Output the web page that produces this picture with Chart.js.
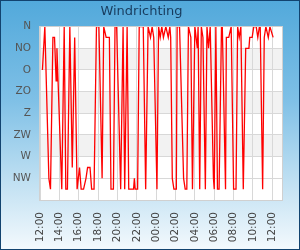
<!DOCTYPE html>
<html>
<head>
<meta charset="utf-8">
<script src="https://cdn.jsdelivr.net/npm/chart.js@4.4.1/dist/chart.umd.min.js"></script>
<style>
    html, body { margin: 0; padding: 0; }
    #wrap {
        width: 300px; height: 250px; box-sizing: border-box;
        border: 1px solid #12436f;
        background: linear-gradient(to bottom, #52a9db 0%, #7fc0e6 40%, #c4e2f3 75%, #f3f9fd 100%);
        position: relative;
    }
    #wrap canvas { display: block; }
</style>
</head>
<body>
<div id="wrap"><canvas id="myChart" width="298" height="248"></canvas></div>
<script>
// windrichting in graden (0 = N), tijd per meting
var times = ['12:15', '12:30', '12:55', '13:05', '13:20', '13:30', '13:40', '13:45', '14:15', '14:30',
    '14:40', '14:50', '15:05', '15:20', '15:35', '15:50', '16:05', '16:15', '16:30', '16:45',
    '16:55', '17:10', '17:20', '17:35', '17:50', '18:05', '18:25', '18:35', '18:50', '19:10',
    '19:20', '19:35', '19:45', '19:55', '20:20', '20:35', '20:45', '21:00', '21:10', '21:40',
    '21:45', '21:50', '22:05', '22:15', '22:40', '22:55', '23:10', '23:25', '23:35', '23:45',
    '00:05', '00:15', '00:25', '00:35', '00:45', '01:00', '01:15', '01:25', '01:30', '01:40',
    '01:50', '02:05', '02:10', '02:25', '02:50', '03:00', '03:10', '03:20', '03:35', '03:45',
    '04:00', '04:15', '04:20', '04:30', '04:40', '04:50', '05:05', '05:15', '05:25', '05:35',
    '05:55', '06:00', '06:10', '06:20', '06:30', '06:45', '06:50', '07:10', '07:15', '07:30',
    '07:45', '08:00', '08:15', '08:25', '08:35', '08:45', '09:00', '09:15', '09:35', '09:40',
    '09:55', '10:05', '10:20', '10:30', '10:40', '10:45', '11:00', '11:10', '11:20', '11:35',
    '11:45', '12:05'];
var dirs = [90, 0, 315, 337.5, 22.5, 22.5, 112.5, 45, 337.5, 0,
    337.5, 337.5, 0, 292.5, 22.5, 337.5, 292.5, 337.5, 337.5, 315,
    292.5, 292.5, 337.5, 337.5, 0, 0, 315, 0, 22.5, 22.5,
    337.5, 337.5, 0, 0, 337.5, 0, 337.5, 0, 337.5, 337.5,
    315, 337.5, 337.5, 0, 0, 337.5, 0, 22.5, 0, 22.5,
    337.5, 0, 22.5, 0, 22.5, 0, 22.5, 0, 22.5, 315,
    337.5, 337.5, 0, 0, 315, 337.5, 337.5, 0, 22.5, 337.5,
    0, 45, 0, 337.5, 0, 22.5, 337.5, 0, 45, 0,
    315, 337.5, 0, 337.5, 337.5, 0, 0, 337.5, 22.5, 22.5,
    0, 337.5, 337.5, 0, 22.5, 0, 337.5, 45, 45, 22.5,
    22.5, 0, 0, 22.5, 0, 0, 337.5, 22.5, 0, 22.5,
    0, 22.5];
var richtingen = ['N', 'NO', 'O', 'ZO', 'Z', 'ZW', 'W', 'NW', ''];
var startUur = 12;

// uren sinds 12:00, met overgang naar de volgende dag
var punten = [], dag = 0, vorige = -1;
times.forEach(function (t, i) {
    var p = t.split(':');
    var uur = parseInt(p[0]) + parseInt(p[1]) / 60;
    if (uur < vorige) dag += 24;
    vorige = uur;
    punten.push({x: uur + dag - startUur, y: dirs[i]});
});

const achtergrond = {
    id: 'achtergrond',
    beforeDraw(chart) {
        var c = chart.ctx, a = chart.chartArea, y = chart.scales.y;
        c.save();
        c.fillStyle = '#ffffff';
        c.fillRect(a.left, a.top, a.right - a.left, a.bottom - a.top);
        c.fillStyle = '#f2f2f2';
        for (var v = 45; v < 315; v += 90) {
            var y1 = y.getPixelForValue(v), y2 = y.getPixelForValue(v + 45);
            c.fillRect(a.left, y1, a.right - a.left, y2 - y1);
        }
        c.restore();
    },
    afterDraw(chart) {
        var c = chart.ctx, a = chart.chartArea;
        c.save();
        c.strokeStyle = '#d0d0d0';
        c.lineWidth = 1;
        c.strokeRect(Math.round(a.left) - 0.5, Math.round(a.top) - 0.5, Math.round(a.right - a.left) + 1, Math.round(a.bottom - a.top) + 1);
        c.restore();
    }
};

var ctx = document.getElementById('myChart').getContext('2d');
var myChart = new Chart(ctx, {
    type: 'line',
    data: {
        datasets: [{
            data: punten,
            borderColor: '#ff0000',
            borderWidth: 1.3,
            pointRadius: 0,
            tension: 0,
            fill: false
        }]
    },
    plugins: [achtergrond],
    options: {
        responsive: false,
        animation: false,
        layout: {padding: {left: 0, right: 17, top: 0, bottom: 0}},
        plugins: {
            legend: {display: false},
            tooltip: {enabled: false},
            title: {
                display: true,
                text: 'Windrichting',
                color: '#183c5e',
                font: {family: 'DejaVu Sans', size: 13, weight: 'normal'},
                padding: {top: 3, bottom: 7}
            }
        },
        scales: {
            x: {
                type: 'linear',
                min: 0,
                max: 25,
                grid: {color: '#d8d8d8', drawTicks: false},
                border: {display: false},
                afterFit: function (s) { s.height = 49; },
                ticks: {
                    stepSize: 2,
                    autoSkip: false,
                    includeBounds: false,
                    maxRotation: 90,
                    minRotation: 90,
                    padding: 12,
                    color: '#444444',
                    font: {family: 'DejaVu Sans', size: 10.5},
                    callback: function (v) {
                        if (v % 2 !== 0) return '';
                        var h = (startUur + v) % 24;
                        return (h < 10 ? '0' : '') + h + ':00';
                    }
                }
            },
            y: {
                type: 'linear',
                reverse: true,
                min: 0,
                max: 360,
                grid: {color: '#d8d8d8', drawTicks: false},
                border: {display: false},
                afterFit: function (s) { s.width = 39; },
                ticks: {
                    stepSize: 45,
                    padding: 9,
                    color: '#555555',
                    font: {family: 'DejaVu Sans', size: 10.5},
                    callback: function (v) { return richtingen[v / 45]; }
                }
            }
        }
    }
});
</script>
</body>
</html>
